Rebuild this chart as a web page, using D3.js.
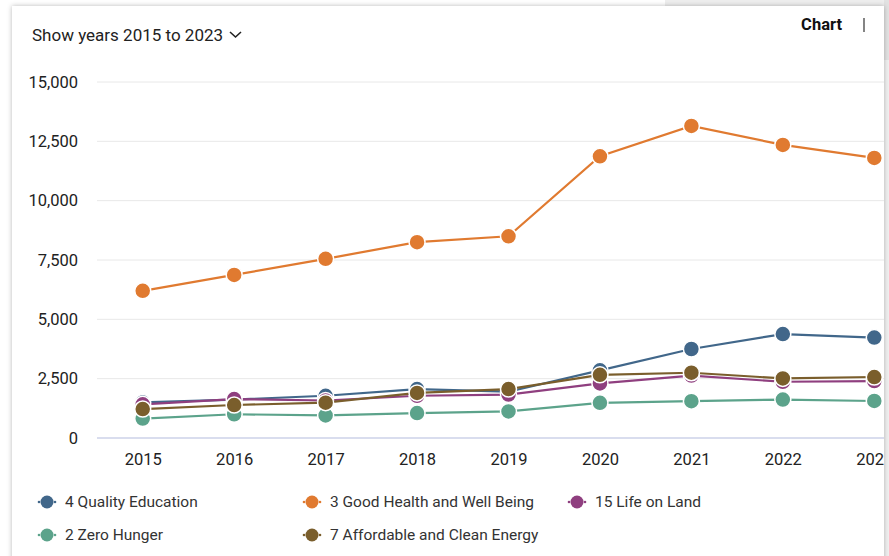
<!DOCTYPE html>
<html>
<head>
<meta charset="utf-8">
<script src="https://cdn.jsdelivr.net/npm/d3@7/dist/d3.min.js"></script>
<style>
  body { margin: 0; background: #fff; font-family: Roboto, "Noto Sans", sans-serif; }
  #chart { position: absolute; left: 0; top: 0; }
</style>
</head>
<body>
<div id="chart"></div>
<script>
// data
var years = ["2015","2016","2017","2018","2019","2020","2021","2022","2023"];
var qualityEducation = [1500, 1620, 1780, 2060, 1950, 2850, 3750, 4380, 4230];
var goodHealth = [6200, 6870, 7550, 8250, 8500, 11870, 13150, 12350, 11800];
var lifeOnLand = [1420, 1640, 1580, 1780, 1830, 2300, 2630, 2370, 2400];
var zeroHunger = [820, 1000, 950, 1050, 1120, 1480, 1550, 1620, 1560];
var cleanEnergy = [1220, 1390, 1490, 1900, 2060, 2660, 2750, 2510, 2570];
var yTicks = [0, 2500, 5000, 7500, 10000, 12500, 15000];

var series = [
  {name: "4 Quality Education", values: qualityEducation, color: "#41678a"},
  {name: "3 Good Health and Well Being", values: goodHealth, color: "#e07a30"},
  {name: "15 Life on Land", values: lifeOnLand, color: "#8f3f7f"},
  {name: "2 Zero Hunger", values: zeroHunger, color: "#5ca38b"},
  {name: "7 Affordable and Clean Energy", values: cleanEnergy, color: "#7a5e2c"}
];

var width = 889, height = 556;

var svg = d3.select("#chart").append("svg")
    .attr("width", width)
    .attr("height", height);

var defs = svg.append("defs");
var shadow = defs.append("filter").attr("id", "shadow")
    .attr("x", "-5%").attr("y", "-5%").attr("width", "110%").attr("height", "110%");
shadow.append("feDropShadow")
    .attr("dx", 0).attr("dy", 0).attr("stdDeviation", 2.5)
    .attr("flood-color", "#000").attr("flood-opacity", 0.28);

defs.append("clipPath").attr("id", "card-clip")
  .append("rect").attr("x", 12).attr("y", 6).attr("width", 872).attr("height", 560);

// page background bits around the card
svg.append("rect").attr("x", 665).attr("y", 0).attr("width", 224).attr("height", 8).attr("fill", "#eeeeee");
svg.append("rect").attr("x", 884).attr("y", 0).attr("width", 5).attr("height", height).attr("fill", "#f0f0f0");
svg.append("rect").attr("x", 884).attr("y", 0).attr("width", 5).attr("height", 60).attr("fill", "#e2e2e2");

// card
svg.append("rect")
    .attr("x", 12).attr("y", 6).attr("width", 872).attr("height", 570)
    .attr("fill", "#fff")
    .attr("filter", "url(#shadow)");

var card = svg.append("g").attr("clip-path", "url(#card-clip)");

// header
card.append("text")
    .attr("x", 32).attr("y", 41)
    .attr("font-size", 17).attr("fill", "#222")
    .text("Show years 2015 to 2023");
card.append("path")
    .attr("d", "M230,32 L235.5,37 L241,32")
    .attr("fill", "none").attr("stroke", "#222").attr("stroke-width", 1.6);
card.append("text")
    .attr("x", 842).attr("y", 30)
    .attr("text-anchor", "end")
    .attr("font-size", 16.5).attr("font-weight", "bold").attr("fill", "#111")
    .text("Chart");
card.append("line")
    .attr("x1", 864).attr("x2", 864).attr("y1", 18).attr("y2", 32)
    .attr("stroke", "#333").attr("stroke-width", 1.2);

// scales
var x = d3.scalePoint().domain(years).range([97, 920]).padding(0.5);
var y = d3.scaleLinear().domain([0, 15000]).range([438, 82]);

// gridlines
card.append("g")
  .selectAll("line")
  .data(yTicks)
  .join("line")
    .attr("x1", 97).attr("x2", 920)
    .attr("y1", d => y(d)).attr("y2", d => y(d))
    .attr("stroke", d => d === 0 ? "#ccd2e8" : "#e8e8e8")
    .attr("stroke-width", d => d === 0 ? 1.5 : 1);

// y axis labels
var yAxis = card.append("g")
    .attr("transform", "translate(97,0)")
    .call(d3.axisLeft(y).tickValues(yTicks).tickSize(0).tickPadding(19).tickFormat(d3.format(",")));
yAxis.select(".domain").remove();
yAxis.selectAll("text").attr("font-size", 16.5).attr("font-family", "Roboto, sans-serif").attr("fill", "#222");

// x axis labels
var xAxis = card.append("g")
    .attr("transform", "translate(0,438)")
    .call(d3.axisBottom(x).tickSize(0).tickPadding(15));
xAxis.select(".domain").remove();
xAxis.selectAll("text").attr("font-size", 16.5).attr("font-family", "Roboto, sans-serif").attr("fill", "#222");

// lines and points
var line = d3.line()
    .x((d, i) => x(years[i]))
    .y(d => y(d));

var plot = card.append("g");
series.forEach(function(s) {
  var g = plot.append("g");
  g.append("path")
      .attr("d", line(s.values))
      .attr("fill", "none")
      .attr("stroke", s.color)
      .attr("stroke-width", 2.2);
  g.selectAll("circle")
    .data(s.values)
    .join("circle")
      .attr("cx", (d, i) => x(years[i]))
      .attr("cy", d => y(d))
      .attr("r", 8)
      .attr("fill", s.color)
      .attr("stroke", "#fff")
      .attr("stroke-width", 1.5);
});

// legend
var legendPos = [[47, 502], [312, 502], [577, 502], [47, 535], [312, 535]];
var legend = card.append("g")
  .selectAll("g")
  .data(series)
  .join("g")
    .attr("transform", (d, i) => "translate(" + legendPos[i][0] + "," + legendPos[i][1] + ")");
legend.append("circle").attr("cx", -8).attr("r", 1.3).attr("fill", d => d.color);
legend.append("circle").attr("cx", 8).attr("r", 1.3).attr("fill", d => d.color);
legend.append("circle").attr("r", 6.5).attr("fill", d => d.color);
legend.append("text")
    .attr("x", 18).attr("dy", "0.35em")
    .attr("font-size", 15.5).attr("fill", "#333")
    .text(d => d.name);
</script>
</body>
</html>
